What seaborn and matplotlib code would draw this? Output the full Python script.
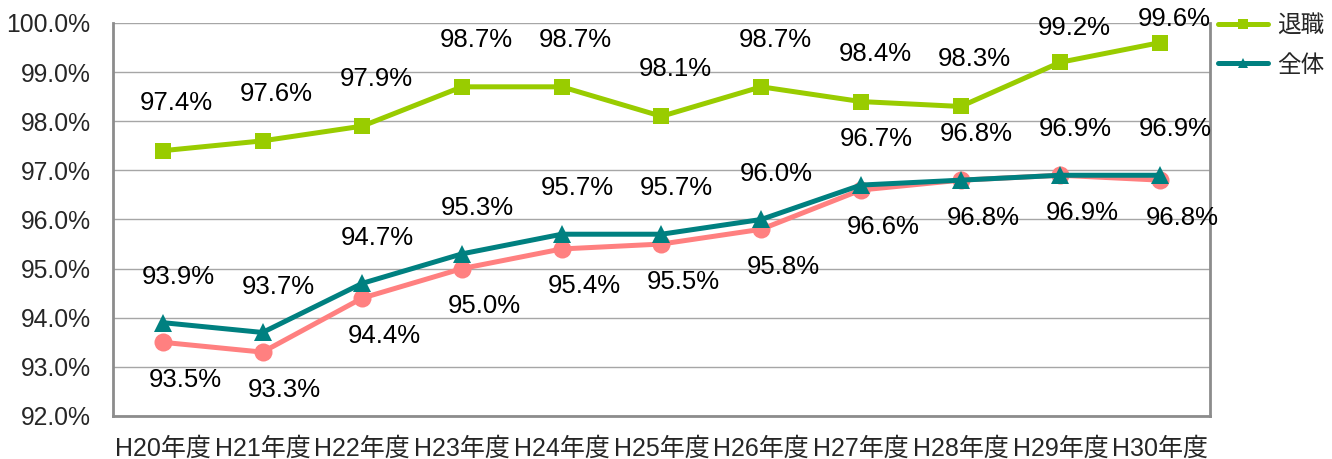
import matplotlib
matplotlib.use("Agg")
import matplotlib.pyplot as plt
import numpy as np
import pandas as pd
import seaborn as sns

YEARS = ["H20年度", "H21年度", "H22年度", "H23年度", "H24年度", "H25年度",
         "H26年度", "H27年度", "H28年度", "H29年度", "H30年度"]

# 退職
RETIRE = [97.4, 97.6, 97.9, 98.7, 98.7, 98.1, 98.7, 98.4, 98.3, 99.2, 99.6]
# 全体
TOTAL = [93.9, 93.7, 94.7, 95.3, 95.7, 95.7, 96.0, 96.7, 96.8, 96.9, 96.9]
# third series (not in legend)
OTHER = [93.5, 93.3, 94.4, 95.0, 95.4, 95.5, 95.8, 96.6, 96.8, 96.9, 96.8]

YTICKS = [92, 93, 94, 95, 96, 97, 98, 99, 100]

sns.set_style("white")
plt.rcParams["font.family"] = ["Liberation Sans", "Noto Sans CJK JP", "DejaVu Sans"]

GREEN = "#99CC00"
TEAL = "#008080"
PINK = "#FF8080"
GRAY = "#8C8C8C"
FS = 18.5

fig = plt.figure(figsize=(13.32, 4.59), dpi=100)
ax = fig.add_axes([0.0848, 0.0937, 0.8236, 0.8563])

x = np.arange(len(YEARS))

sns.lineplot(x=x, y=OTHER, ax=ax, color=PINK, linewidth=3.6, marker="o",
             markersize=13, markeredgewidth=0, zorder=3, legend=False)
sns.lineplot(x=x, y=TOTAL, ax=ax, color=TEAL, linewidth=3.6, marker="^",
             markersize=13, markeredgewidth=0, zorder=4, label="全体")
sns.lineplot(x=x, y=RETIRE, ax=ax, color=GREEN, linewidth=3.6, marker="s",
             markersize=12, markeredgewidth=0, zorder=4, label="退職")

ax.set_xlim(-0.5, len(YEARS) - 0.5)
ax.set_ylim(92, 100)


def label_series(vals, dx, dy):
    for xi, v in zip(x, vals):
        off = dy
        if dy > 0:
            # squeeze labels near the top so they stay inside the figure
            px = ax.transData.transform((xi, v))[1]
            dist_pt = (fig.bbox.height - px) * 72 / fig.dpi
            off = min(dy, 0.55 * dist_pt)
        ax.annotate(f"{v:.1f}%", (xi, v), xytext=(dx, off), textcoords="offset points",
                    ha="center", va="center", fontsize=FS, color="black")


label_series(RETIRE, 10, 34)
label_series(TOTAL, 11, 33)
label_series(OTHER, 16, -27)

ax.set_yticks(YTICKS)
ax.set_yticklabels([f"{t:.1f}%" for t in YTICKS], fontsize=17.8)
ax.set_xticks(x)
ax.set_xticklabels(YEARS, fontsize=18)
ax.set_xticks(np.arange(0.5, len(YEARS) - 1, 1), minor=True)
ax.tick_params(axis="x", which="major", length=0, pad=15)
ax.tick_params(axis="x", which="minor", direction="in", length=6, width=1, color=GRAY)
ax.tick_params(axis="y", length=0, pad=16)
ax.set_xlabel("")
ax.set_ylabel("")

ax.grid(axis="y", color="#A6A6A6", linewidth=1)
ax.set_axisbelow(True)
ax.spines["top"].set_visible(False)
for side in ["left", "bottom", "right"]:
    ax.spines[side].set_color(GRAY)
    ax.spines[side].set_linewidth(2)

handles, labels = ax.get_legend_handles_labels()
order = [labels.index("退職"), labels.index("全体")]
ax.legend([handles[i] for i in order], [labels[i] for i in order],
          loc="upper left", bbox_to_anchor=(0.9112, 0.978), bbox_transform=fig.transFigure,
          frameon=False, fontsize=17, handlelength=2.1, handletextpad=0.4,
          labelspacing=0.75, borderaxespad=0.0, borderpad=0.2, markerscale=0.6)

fig.savefig("out.png", dpi=100)
